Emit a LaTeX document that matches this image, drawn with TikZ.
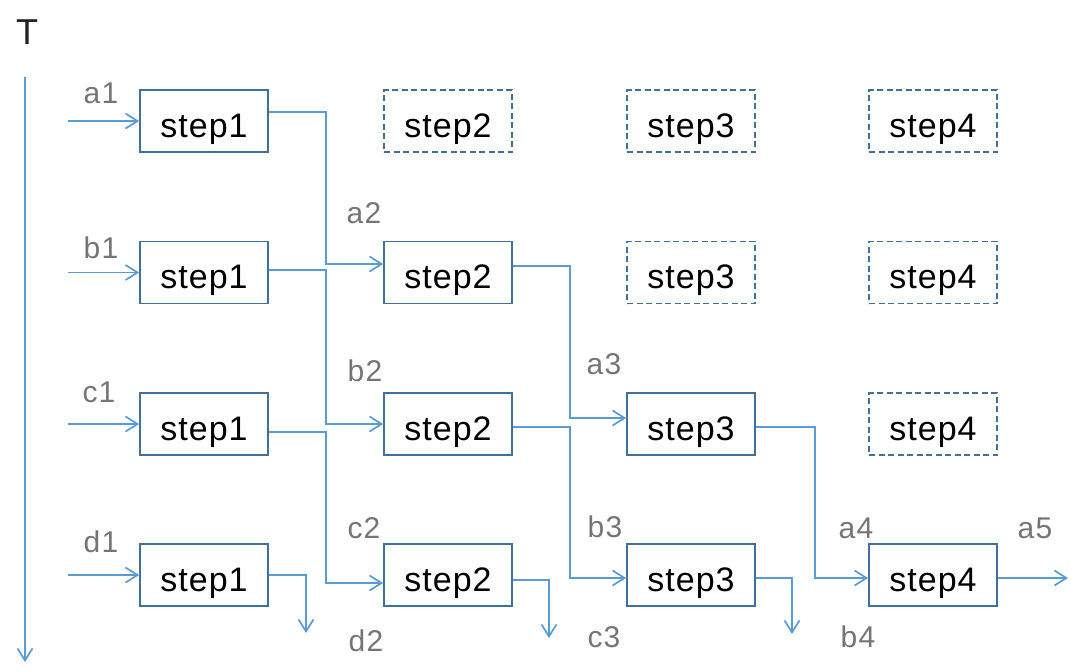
\documentclass[tikz,border=0pt]{standalone}
\usepackage{fontspec}
\setmainfont{Liberation Sans}
\newfontfamily\stepfont[LetterSpace=3]{Liberation Sans}
\newfontfamily\lblfont[LetterSpace=4]{Liberation Sans}
\usetikzlibrary{arrows.meta}
\definecolor{boxblue}{HTML}{41709B}
\definecolor{arrblue}{HTML}{5B9BD5}
\definecolor{lblgray}{HTML}{767474}
\definecolor{tdark}{HTML}{222222}
\tikzset{
  stepbox/.style={draw=boxblue, line width=1.7pt, minimum width=128pt, minimum height=62pt, inner sep=0pt, text height=34pt, text depth=2pt, font=\stepfont\fontsize{34}{40}\selectfont, text=black},
  ghostbox/.style={stepbox, dash pattern=on 6pt off 3.5pt},
  conn/.style={draw=arrblue, line width=1.7pt, -{Straight Barb[length=12pt,width=15pt,line width=1.7pt]}},
  lbl/.style={anchor=base, text=lblgray, font=\lblfont\fontsize{30}{36}\selectfont, inner sep=0pt},
}
\begin{document}
\begin{tikzpicture}[x=1pt,y=-1pt]
\useasboundingbox (0,0) rectangle (1071,670);
% time axis
\node[anchor=base, text=tdark, font=\fontsize{36}{40}\selectfont, inner sep=0pt] (T) at (27,44) {T};
\coordinate (tTop) at (25,77);
\coordinate (tBot) at (25,662);
\draw[conn] (tTop) -- (tBot);
% boxes
\node[stepbox] (s11) at (204,121) {step1};
\node[ghostbox] (s12) at (448,121) {step2};
\node[ghostbox] (s13) at (691,121) {step3};
\node[ghostbox] (s14) at (933,121) {step4};
\node[stepbox] (s21) at (204,272.5) {step1};
\node[stepbox] (s22) at (448,272.5) {step2};
\node[ghostbox] (s23) at (691,272.5) {step3};
\node[ghostbox] (s24) at (933,272.5) {step4};
\node[stepbox] (s31) at (204,424) {step1};
\node[stepbox] (s32) at (448,424) {step2};
\node[stepbox] (s33) at (691,424) {step3};
\node[ghostbox] (s34) at (933,424) {step4};
\node[stepbox] (s41) at (204,575) {step1};
\node[stepbox] (s42) at (448,575) {step2};
\node[stepbox] (s43) at (691,575) {step3};
\node[stepbox] (s44) at (933,575) {step4};
% inputs
\coordinate (in1) at (68,121);
\coordinate (in2) at (68,272.5);
\coordinate (in3) at (68,424);
\coordinate (in4) at (68,575);
\draw[conn] (in1) -- (s11.west);
\draw[conn] (in2) -- (s21.west);
\draw[conn] (in3) -- (s31.west);
\draw[conn] (in4) -- (s41.west);
% transfers
\draw[conn] ([yshift=9pt]s11.east) -- ++(57,0) |- ([yshift=8.5pt]s22.west);
\draw[conn] ([yshift=2.5pt]s21.east) -- ++(57,0) |- (s32.west);
\draw[conn] ([yshift=-8pt]s31.east) -- ++(57,0) |- ([yshift=-8pt]s42.west);
\draw[conn] ([yshift=6.5pt]s22.east) -- ++(57,0) |- ([yshift=6pt]s33.west);
\draw[conn] ([yshift=-3pt]s32.east) -- ++(57,0) |- ([yshift=-3pt]s43.west);
\draw[conn] ([yshift=-3pt]s33.east) -- ++(59,0) |- ([yshift=-3pt]s44.west);
% outputs
\coordinate (o41) at (306,633);
\coordinate (o42) at (549,638);
\coordinate (o43) at (792,634);
\coordinate (o44) at (1068,578);
\draw[conn] (s41.east) -| (o41);
\draw[conn] ([yshift=-5pt]s42.east) -| (o42);
\draw[conn] ([yshift=-3pt]s43.east) -| (o43);
\draw[conn] ([yshift=-3pt]s44.east) -- (o44);
% labels
\node[lbl] (la1) at (101,103) {a1};
\node[lbl] (lb1) at (101,258) {b1};
\node[lbl] (lc1) at (99,402) {c1};
\node[lbl] (ld1) at (101,552) {d1};
\node[lbl] (la2) at (364,223) {a2};
\node[lbl] (lb2) at (365,381) {b2};
\node[lbl] (lc2) at (364,538) {c2};
\node[lbl] (ld2) at (366,651) {d2};
\node[lbl] (la3) at (604,374) {a3};
\node[lbl] (lb3) at (605,537) {b3};
\node[lbl] (lc3) at (604,647) {c3};
\node[lbl] (la4) at (856,538) {a4};
\node[lbl] (lb4) at (858,647) {b4};
\node[lbl] (la5) at (1035,538) {a5};
\end{tikzpicture}
\end{document}
